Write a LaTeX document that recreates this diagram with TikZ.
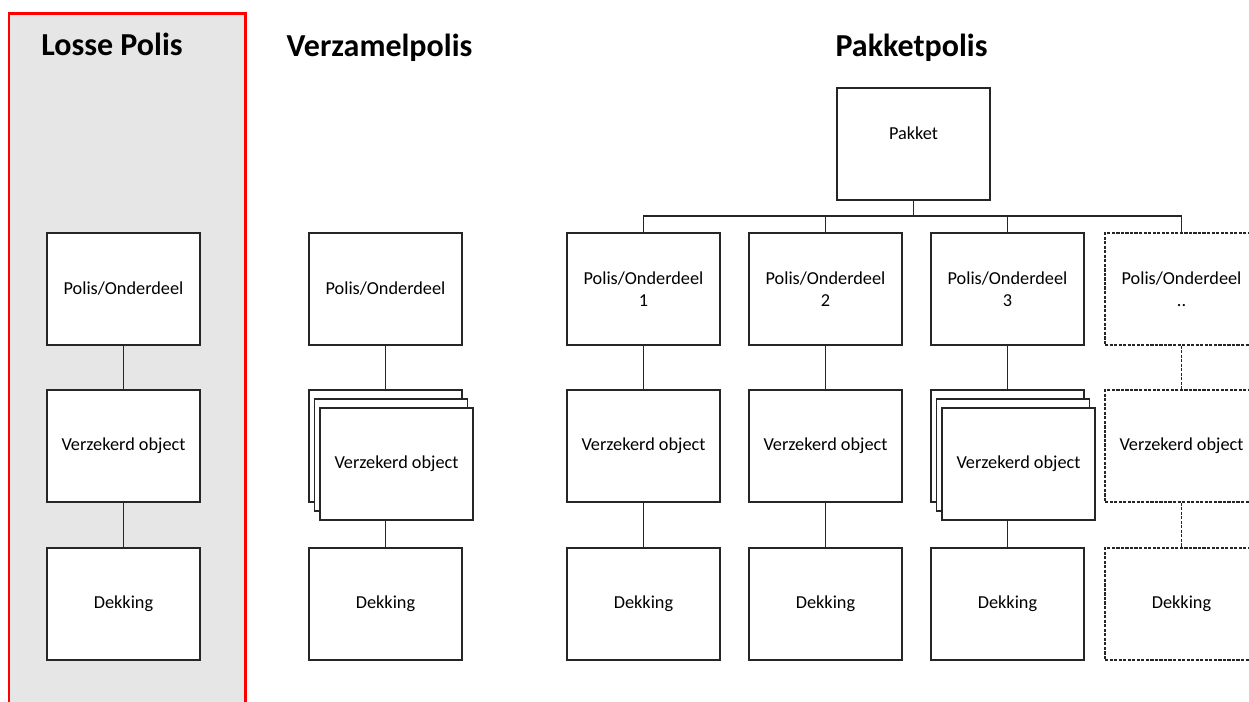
\documentclass[tikz,border=0pt]{standalone}
\usepackage{fontspec}
\setmainfont{Carlito}
\usetikzlibrary{positioning}
\definecolor{losgrijs}{RGB}{230,230,230}
\definecolor{losrood}{RGB}{255,0,0}
\tikzset{
    blok/.style={draw=black!85, line width=1pt, fill=white,
        minimum width=114.75pt, minimum height=84pt, inner sep=2pt,
        align=center, font=\fontsize{13.7}{16.7}\selectfont},
    leeg/.style={blok, line width=0.8pt, dash pattern=on 2.4pt off 1pt},
    kop/.style={anchor=base, font=\fontsize{24}{29}\selectfont\bfseries},
    lijn/.style={draw=black!85, line width=1pt},
    stippellijn/.style={lijn, line width=0.8pt, dash pattern=on 2.4pt off 1pt}
}

\begin{document}
\begin{tikzpicture}[x=0.75pt,y=-0.75pt]
        \useasboundingbox (0,0) rectangle (1249,702);
        \draw[losrood, line width=2.2pt, fill=losgrijs] (9,13.5) rectangle (245.5,730);

        \node[kop] (titelLos) at (112,56) {Losse Polis};
        \node[kop] (titelVer) at (379.5,56.5) {Verzamelpolis};
        \node[kop] (titelPak) at (911.5,56.5) {Pakketpolis};

        % losse polis
        \node[blok] (losPol) at (123.5,289) {Polis/Onderdeel};
        \node[blok] (losObj) at (123.5,446) {Verzekerd object};
        \node[blok] (losDek) at (123.5,604) {Dekking};
        \draw[lijn] (losPol) -- (losObj);
        \draw[lijn] (losObj) -- (losDek);

        % verzamelpolis
        \node[blok] (verPol) at (385.5,289) {Polis/Onderdeel};
        \node[blok] (verObjA) at (385.5,446) {};
        \node[blok] (verObjB) at (391,455) {};
        \node[blok] (verObjC) at (396.5,464) {Verzekerd object};
        \node[blok] (verDek) at (385.5,604) {Dekking};
        \draw[lijn] (verPol) -- (verObjA);
        \draw[lijn] (verObjC.south -| verDek.north) -- (verDek.north);

        % pakketpolis
        \node[blok] (pakket) at (913.5,144) {Pakket\\\mbox{}};
        \coordinate (bus) at (913.5,216);
        \node[blok] (pakPol1) at (643.5,289) {Polis/Onderdeel\\1};
        \node[blok] (pakPol2) at (825.5,289) {Polis/Onderdeel\\2};
        \node[blok] (pakPol3) at (1007.5,289) {Polis/Onderdeel\\3};
        \node[leeg] (pakPol4) at (1181.5,289) {Polis/Onderdeel\\..};

        \node[blok] (pakObj1) at (643.5,446) {Verzekerd object};
        \node[blok] (pakObj2) at (825.5,446) {Verzekerd object};
        \node[blok] (pakObj3a) at (1007.5,446) {};
        \node[blok] (pakObj3b) at (1013,455) {};
        \node[blok] (pakObj3c) at (1018.5,464) {Verzekerd object};
        \node[leeg] (pakObj4) at (1181.5,446) {Verzekerd object};

        \node[blok] (pakDek1) at (643.5,604) {Dekking};
        \node[blok] (pakDek2) at (825.5,604) {Dekking};
        \node[blok] (pakDek3) at (1007.5,604) {Dekking};
        \node[leeg] (pakDek4) at (1181.5,604) {Dekking};

        \draw[lijn] (pakket) -- (bus);
        \draw[lijn] (pakPol1.north) |- (bus);
        \draw[lijn] (pakPol4.north) |- (bus);
        \draw[lijn] (pakPol2.north) -- (pakPol2.north |- bus);
        \draw[lijn] (pakPol3.north) -- (pakPol3.north |- bus);

        \foreach \k in {1,2} {
            \draw[lijn] (pakPol\k) -- (pakObj\k);
            \draw[lijn] (pakObj\k) -- (pakDek\k);
        }
        \draw[lijn] (pakPol3) -- (pakObj3a);
        \draw[lijn] (pakObj3c.south -| pakDek3.north) -- (pakDek3.north);
        \draw[stippellijn] (pakPol4) -- (pakObj4);
        \draw[stippellijn] (pakObj4) -- (pakDek4);
\end{tikzpicture}
\end{document}
